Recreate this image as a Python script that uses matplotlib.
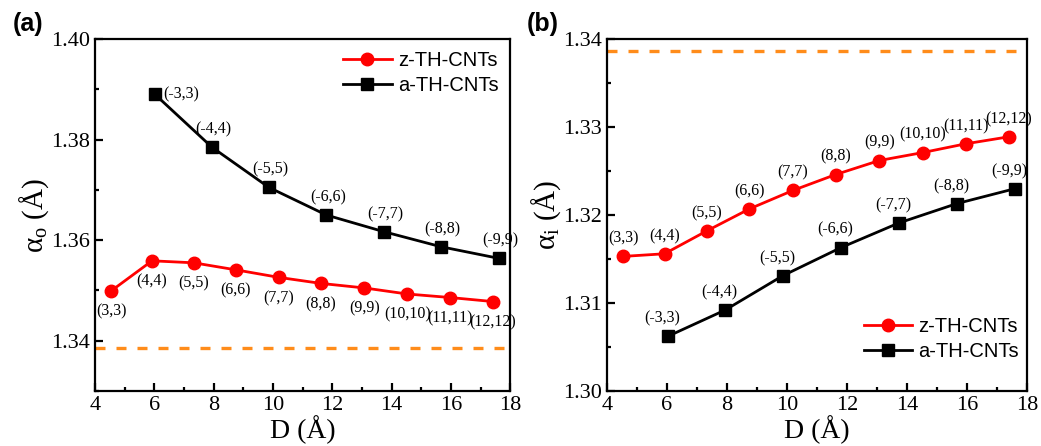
import matplotlib
matplotlib.use("Agg")
import matplotlib.pyplot as plt
from matplotlib.ticker import MultipleLocator

plt.rcParams['font.family'] = ['Liberation Serif', 'DejaVu Serif']
plt.rcParams['mathtext.fontset'] = 'custom'
plt.rcParams['mathtext.rm'] = 'Liberation Serif'

# tube diameters (Angstrom)
d_z = [4.54, 5.92, 7.33, 8.75, 10.20, 11.62, 13.08, 14.52, 15.96, 17.40]
d_a = [6.02, 7.94, 9.86, 11.80, 13.73, 15.66, 17.60]
labels_z = ['(3,3)', '(4,4)', '(5,5)', '(6,6)', '(7,7)', '(8,8)', '(9,9)',
            '(10,10)', '(11,11)', '(12,12)']
labels_a = ['(-3,3)', '(-4,4)', '(-5,5)', '(-6,6)', '(-7,7)', '(-8,8)', '(-9,9)']

# bond parameter alpha_o
ao_z = [1.3499, 1.3559, 1.3555, 1.3541, 1.3526, 1.3514, 1.3505, 1.3493, 1.3486, 1.3478]
ao_a = [1.3890, 1.3785, 1.3705, 1.3650, 1.3617, 1.3587, 1.3564]

# bond parameter alpha_i
ai_z = [1.3153, 1.3156, 1.3182, 1.3207, 1.3228, 1.3246, 1.3262, 1.3271, 1.3281, 1.3289]
ai_a = [1.3062, 1.3092, 1.3131, 1.3163, 1.3191, 1.3213, 1.3230]

ref_line = 1.3386

fig = plt.figure(figsize=(10.41, 4.46), dpi=100)
ax1 = fig.add_axes([0.0913, 0.1233, 0.399, 0.789])
ax2 = fig.add_axes([0.583, 0.1233, 0.4035, 0.789])


def style(ax, ylo, yhi, major, minor):
    ax.set_xlim(4, 18)
    ax.set_ylim(ylo, yhi)
    ax.xaxis.set_major_locator(MultipleLocator(2))
    ax.xaxis.set_minor_locator(MultipleLocator(1))
    ax.yaxis.set_major_locator(MultipleLocator(major))
    ax.yaxis.set_minor_locator(MultipleLocator(minor))
    ax.tick_params(which='both', direction='in', top=False, right=False,
                   labelsize=16, width=1.6)
    ax.tick_params(which='major', length=5.5)
    ax.tick_params(which='minor', length=3)
    for s in ax.spines.values():
        s.set_linewidth(1.6)
    ax.set_xlabel('D (Å)', fontsize=20, labelpad=0)


def series(ax, yz, ya, **legend_kw):
    ax.plot(d_z, yz, '-o', color='red', lw=2, ms=9, label='z-TH-CNTs')
    ax.plot(d_a, ya, '-s', color='black', lw=2, ms=8, label='a-TH-CNTs')
    ax.axhline(ref_line, color='#FF8C1A', lw=2.4, ls=(0, (3.0, 3.3)))
    ax.legend(frameon=False, handlelength=2.4, handletextpad=0.3,
              labelspacing=0.3, borderaxespad=0.2,
              prop={'family': 'Liberation Sans', 'size': 14.5}, **legend_kw)


# (a)
style(ax1, 1.33, 1.40, 0.02, 0.01)
series(ax1, ao_z, ao_a, loc='upper right')
for x, y, t in zip(d_z, ao_z, labels_z):
    ax1.annotate(t, (x, y), xytext=(0, -9), textcoords='offset points',
                 ha='center', va='top', fontsize=11.5)
for i, (x, y, t) in enumerate(zip(d_a, ao_a, labels_a)):
    if i == 0:
        ax1.annotate(t, (x, y), xytext=(6, 0), textcoords='offset points',
                     ha='left', va='center', fontsize=11.5)
    else:
        ax1.annotate(t, (x, y), xytext=(1, 7), textcoords='offset points',
                     ha='center', va='bottom', fontsize=11.5)
ax1.set_ylabel(r'$\mathregular{α_o}$ (Å)', fontsize=21, labelpad=0)
fig.text(0.0125, 1 - 12 / 446, '(a)', fontsize=18, fontweight='bold',
         family='Liberation Sans', va='top')

# (b)
style(ax2, 1.30, 1.34, 0.01, 0.005)
series(ax2, ai_z, ai_a, loc='lower right', bbox_to_anchor=(1.01, 0.05))
for x, y, t in zip(d_z, ai_z, labels_z):
    ax2.annotate(t, (x, y), xytext=(0, 7), textcoords='offset points',
                 ha='center', va='bottom', fontsize=11.5)
for x, y, t in zip(d_a, ai_a, labels_a):
    ax2.annotate(t, (x, y), xytext=(-4, 7), textcoords='offset points',
                 ha='center', va='bottom', fontsize=11.5)
ax2.set_ylabel(r'$\mathregular{α_i}$ (Å)', fontsize=21, labelpad=0)
fig.text(527 / 1041, 1 - 12 / 446, '(b)', fontsize=18, fontweight='bold',
         family='Liberation Sans', va='top')

fig.savefig('out.png', dpi=100)
